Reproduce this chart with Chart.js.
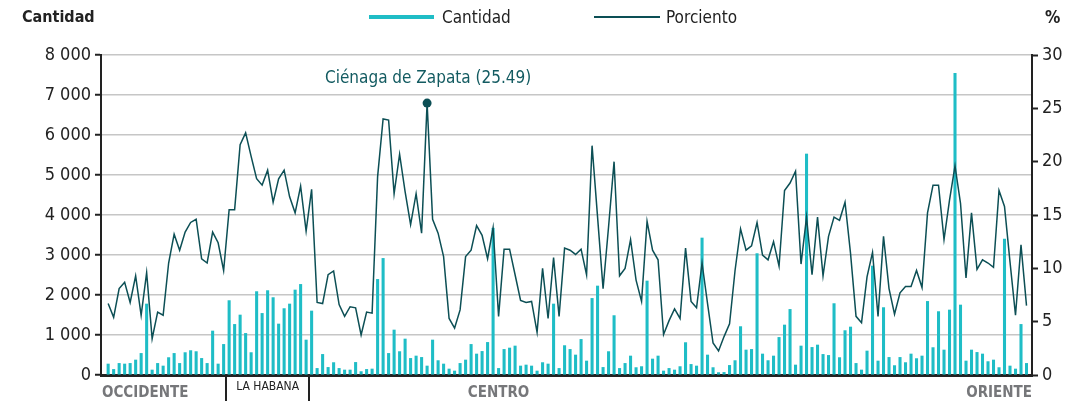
<!DOCTYPE html>
<html>
<head>
<meta charset="utf-8">
<script src="https://cdn.jsdelivr.net/npm/chart.js@4/dist/chart.umd.min.js"></script>
<style>
  body { margin: 0; background: #fff; }
  #wrap { position: relative; width: 1083px; height: 403px; font-family: 'DejaVu Sans Condensed', 'Liberation Sans', sans-serif; color: #222; }
  canvas { position: absolute; left: 0; top: 0; }
  .hdr { position: absolute; top: 6px; font-size: 17px; line-height: 22px; }
  .bold { font-weight: bold; }
  .swatch { position: absolute; }
</style>
</head>
<body>
<div id="wrap">
  <canvas id="grafico" width="1083" height="403"></canvas>
  <div class="hdr bold" style="left:22px;font-size:16px">Cantidad</div>
  <div class="swatch" style="left:369px;top:15px;width:65px;height:4px;background:#1fbdc6"></div>
  <div class="hdr" style="left:442px">Cantidad</div>
  <div class="swatch" style="left:594px;top:16px;width:66px;height:2px;background:#0c4f55"></div>
  <div class="hdr" style="left:666px">Porciento</div>
  <div class="hdr bold" style="left:1045px">%</div>
</div>
<script>
// Cantidad por municipio (168 municipios, de occidente a oriente)
const cantidad = [
  275, 140, 290, 275, 290, 375, 540, 1775, 125, 290, 225, 435, 540, 290, 560, 610, 585, 415, 290, 1100, 275, 765,
  1860, 1265, 1500, 1040, 560, 2085, 1540, 2110, 1935, 1275, 1660, 1775, 2125, 2265, 875,
  1600, 165, 515, 190, 310, 165, 125, 125, 315, 85, 140, 150, 2390, 2915, 540, 1125, 585, 900,
  415, 475, 440, 225, 875, 360, 275, 150, 100, 290, 375, 765, 525, 590, 815, 3670, 165, 640, 675, 725,
  225, 250, 225, 100, 310, 275, 1775, 165, 735, 640, 500, 890, 350, 1915, 2225, 190, 585, 1485, 165,
  290, 475, 185, 210, 2350, 400, 475, 100, 165, 125, 210, 810, 265, 225, 3425, 500, 185, 60,
  65, 240, 360, 1210, 625, 640, 3035, 525, 360, 475, 940, 1250, 1640, 250, 725, 5525, 690, 750,
  515, 490, 1785, 435, 1110, 1200, 290, 125, 600, 2725, 350, 1685, 440, 235, 440, 310, 525, 410,
  475, 1840, 685, 1585, 625, 1625, 7540, 1750, 350, 625, 565, 525, 335, 375, 185, 3400, 225, 150, 1265, 290
];

// Porciento por municipio
const porciento = [
  6.7, 5.4, 8.1, 8.7, 6.8, 9.3, 5.6, 9.6, 3.4, 5.9, 5.6, 10.5, 13.2, 11.7, 13.4, 14.3, 14.6, 10.9, 10.5, 13.4, 12.4, 9.8,
  15.5, 15.5, 21.6, 22.7, 20.5, 18.4, 17.8, 19.2, 16.2, 18.4, 19.2, 16.7, 15.2, 17.7, 13.5,
  17.4, 6.8, 6.7, 9.4, 9.75, 6.6, 5.5, 6.4, 6.3, 3.75, 5.9, 5.8, 18.6, 24.0, 23.9, 17.0, 20.7, 17.2,
  14.1, 17.0, 13.3, 25.49, 14.6, 13.3, 11.1, 5.3, 4.4, 6.1, 11.1, 11.7, 14.0, 13.1, 10.9, 13.8, 5.5, 11.8, 11.8, 9.4,
  7.0, 6.8, 6.9, 4.0, 10.0, 5.3, 11.0, 5.5, 11.9, 11.7, 11.3, 11.8, 9.4, 21.5, 14.8, 8.1, 13.9, 20.0, 9.3,
  10.0, 12.7, 8.9, 6.9, 14.4, 11.7, 10.8, 3.8, 5.1, 6.2, 5.3, 11.9, 6.9, 6.3, 10.5, 6.7, 3.0, 2.25,
  3.6, 4.8, 9.8, 13.7, 11.7, 12.1, 14.3, 11.25, 10.8, 12.5, 10.2, 17.3, 18.0, 19.1, 10.4, 14.8, 9.4, 14.8,
  9.3, 13.0, 14.8, 14.5, 16.2, 11.4, 5.5, 4.9, 9.2, 11.5, 5.5, 13.0, 8.1, 5.7, 7.7, 8.3, 8.3, 9.8,
  8.2, 15.2, 17.8, 17.8, 12.7, 16.4, 19.6, 16.1, 9.1, 15.2, 9.9, 10.8, 10.5, 10.1, 17.3, 15.8, 10.6, 5.6, 12.2, 6.5
];

// Regiones y cantidad de municipios en cada una
const regiones = ["OCCIDENTE", "LA HABANA", "CENTRO", "ORIENTE"];
const municipiosPorRegion = [22, 15, 69, 62];

// Marcas de los ejes
const ticksCantidad = [0, 1000, 2000, 3000, 4000, 5000, 6000, 7000, 8000];
const ticksPorciento = [0, 5, 10, 15, 20, 25, 30];

// Municipio destacado
const destacado = { nombre: "Ciénaga de Zapata", indice: 58 };

const FUENTE = "'DejaVu Sans Condensed', 'Liberation Sans', sans-serif";
const TURQUESA = "#1fbdc6";
const VERDE = "#0c4f55";

const formatoMiles = (v) => String(v).replace(/\B(?=(\d{3})+(?!\d))/g, " ");

const puntosCantidad = cantidad.map((v, i) => ({ x: i, y: v }));
const puntosPorciento = porciento.map((v, i) => ({ x: i, y: v }));

// Dibuja regiones abajo y la anotación del máximo
const extras = {
  id: "extras",
  afterDatasetsDraw(chart) {
    const { ctx, chartArea, scales } = chart;
    const x = scales.x;
    const paso = x.getPixelForValue(1) - x.getPixelForValue(0);
    ctx.save();

    // separadores y etiquetas de región
    let inicio = 0;
    const limites = [];
    municipiosPorRegion.forEach((n) => {
      limites.push([inicio, inicio + n - 1]);
      inicio += n;
    });
    ctx.strokeStyle = "#222";
    ctx.lineWidth = 2;
    [0, 1].forEach((r) => {
      const px = Math.round(x.getPixelForValue(limites[r][1]) + paso / 2);
      ctx.beginPath();
      ctx.moveTo(px, chartArea.bottom);
      ctx.lineTo(px, chartArea.bottom + 26);
      ctx.stroke();
    });

    ctx.textBaseline = "middle";
    ctx.fillStyle = "#76777a";
    ctx.font = "bold 15px " + FUENTE;
    ctx.textAlign = "left";
    ctx.fillText(regiones[0], chartArea.left + 1, chartArea.bottom + 18);
    ctx.textAlign = "center";
    const cCentro = (x.getPixelForValue(limites[2][0]) + x.getPixelForValue(limites[2][1])) / 2;
    ctx.fillText(regiones[2], cCentro, chartArea.bottom + 18);
    ctx.textAlign = "right";
    ctx.fillText(regiones[3], chartArea.right, chartArea.bottom + 18);

    ctx.fillStyle = "#222";
    ctx.font = "12px " + FUENTE;
    ctx.textAlign = "center";
    const cHabana = (x.getPixelForValue(limites[1][0]) + x.getPixelForValue(limites[1][1])) / 2;
    ctx.fillText(regiones[1], cHabana, chartArea.bottom + 12);

    // anotación del valor máximo
    const meta = chart.getDatasetMeta(1);
    const p = meta.data[destacado.indice];
    ctx.fillStyle = VERDE;
    ctx.beginPath();
    ctx.arc(p.x, p.y, 4.5, 0, Math.PI * 2);
    ctx.fill();
    ctx.fillStyle = "#135b61";
    ctx.font = "17px " + FUENTE;
    ctx.textAlign = "center";
    ctx.fillText(destacado.nombre + " (" + porciento[destacado.indice].toFixed(2) + ")", p.x + 1, p.y - 25);
    ctx.restore();
  },
};

new Chart(document.getElementById("grafico").getContext("2d"), {
  type: "bar",
  data: {
    datasets: [
      {
        type: "bar",
        label: "Cantidad",
        data: puntosCantidad,
        backgroundColor: TURQUESA,
        barThickness: 2.4,
        yAxisID: "y",
        order: 1,
      },
      {
        type: "line",
        label: "Porciento",
        data: puntosPorciento,
        borderColor: VERDE,
        borderWidth: 1.5,
        pointRadius: 0,
        tension: 0,
        yAxisID: "y1",
        order: 0,
      },
    ],
  },
  options: {
    responsive: false,
    animation: false,
    layout: { padding: { top: 55, left: 0, right: 0, bottom: 0 } },
    plugins: { legend: { display: false }, tooltip: { enabled: false } },
    scales: {
      x: {
        type: "linear",
        offset: false,
        min: -1.3,
        max: 168,
        ticks: { display: false },
        grid: { display: false },
        border: { display: true, color: "#222", width: 3 },
        afterFit: (s) => { s.height = 28; },
      },
      y: {
        position: "left",
        min: 0,
        max: 8000,
        afterBuildTicks: (s) => { s.ticks = ticksCantidad.map((v) => ({ value: v })); },
        ticks: {
          color: "#222",
          padding: 4,
          font: { family: FUENTE, size: 18 },
          callback: (v) => formatoMiles(v),
        },
        grid: { color: "#c6c6c6", lineWidth: 1.5, tickColor: "#222", tickLength: 6, tickWidth: 2 },
        border: { display: true, color: "#222", width: 2 },
        afterFit: (s) => { s.width = 101; },
      },
      y1: {
        position: "right",
        min: 0,
        max: 30,
        afterBuildTicks: (s) => { s.ticks = ticksPorciento.map((v) => ({ value: v })); },
        ticks: {
          color: "#222",
          padding: 4,
          font: { family: FUENTE, size: 18 },
        },
        grid: { drawOnChartArea: false, tickColor: "#222", tickLength: 6, tickWidth: 2 },
        border: { display: true, color: "#222", width: 2 },
        afterFit: (s) => { s.width = 51; },
      },
    },
  },
  plugins: [extras],
});
</script>
</body>
</html>
